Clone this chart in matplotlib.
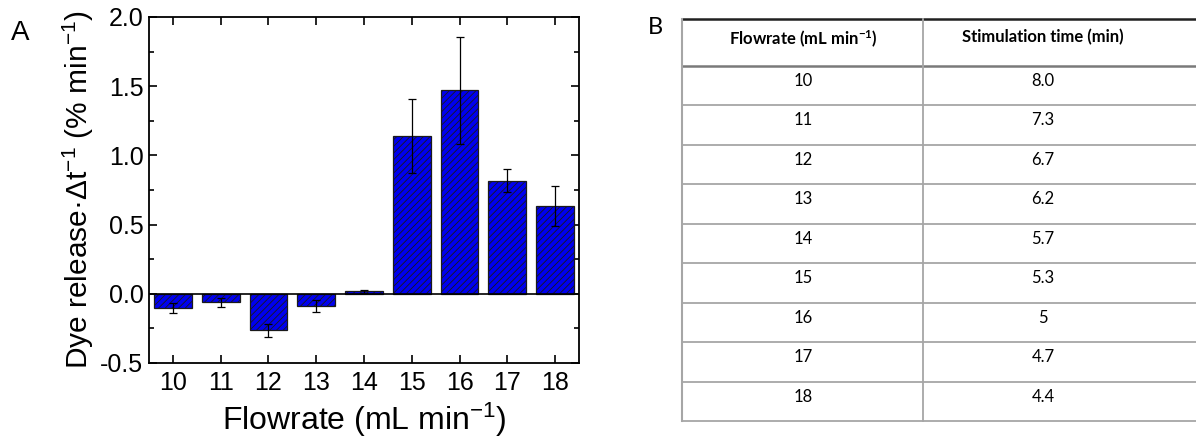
import matplotlib
matplotlib.use('Agg')
import matplotlib.pyplot as plt
import numpy as np

# Data
flowrate = [10, 11, 12, 13, 14, 15, 16, 17, 18]
dye_release = [-0.105, -0.062, -0.264, -0.090, 0.017, 1.138, 1.470, 0.818, 0.634]
dye_err = [0.037, 0.035, 0.046, 0.043, 0.010, 0.268, 0.388, 0.083, 0.143]
table_flow = ['10', '11', '12', '13', '14', '15', '16', '17', '18']
stim_time = ['8.0', '7.3', '6.7', '6.2', '5.7', '5.3', '5', '4.7', '4.4']

plt.rcParams['axes.unicode_minus'] = False
plt.rcParams['hatch.linewidth'] = 0.6

fig = plt.figure(figsize=(11.96, 4.43), dpi=100)
W, H = 1196, 443

# ---- panel A: bar chart
ax = fig.add_axes([149 / W, 1 - 363 / H, 430 / W, 346 / H])
ax.bar(flowrate, dye_release, width=0.79, color='#0000f0', edgecolor='#1a1a1a',
       linewidth=0.9, hatch='/////', zorder=2)
ax.errorbar(flowrate, dye_release, yerr=dye_err, fmt='none', ecolor='black',
            elinewidth=0.9, capsize=3, capthick=0.9, zorder=3)
ax.axhline(0, color='black', lw=1.2, zorder=4)
ax.set_xlim(9.5, 18.5)
ax.set_ylim(-0.5, 2.0)
ax.set_xticks(flowrate)
ax.set_yticks(np.arange(-0.5, 2.01, 0.5))
ax.set_yticks(np.arange(-0.25, 2.0, 0.5), minor=True)
ax.yaxis.set_major_formatter(matplotlib.ticker.FormatStrFormatter('%.1f'))
ax.tick_params(which='both', direction='in', top=True, right=True,
               labelfontfamily='Liberation Sans', width=1.2)
ax.tick_params(which='major', length=6, labelsize=18)
ax.tick_params(which='minor', length=3.5)
ax.tick_params(axis='x', pad=6)
ax.tick_params(axis='y', pad=4)
for s in ax.spines.values():
    s.set_linewidth(1.3)

ax.set_xlabel('Flowrate (mL min$\\mathregular{^{-1}}$)', fontsize=23,
              family='Liberation Sans', va='center')
ax.xaxis.set_label_coords(0.5, (363 - 420) / 346)
ax.set_ylabel('Dye release\u00b7\u0394t$\\mathregular{^{-1}}$ (% min$\\mathregular{^{-1}}$)',
              fontsize=21.5, family='Liberation Sans', va='center')
ax.yaxis.set_label_coords((78 - 149) / 430, 0.5)

fig.text(20 / W, 1 - 33 / H, 'A', fontsize=20, family='Liberation Sans',
         ha='center', va='center')

# ---- panel B: table
tx0, tx1, tcol = 682, 1196, 923
ttop, thead, tbot = 19, 66, 421
tax = fig.add_axes([0, 0, 1, 1])
tax.set_xlim(0, W)
tax.set_ylim(H, 0)
tax.axis('off')

fig.text(655 / W, 1 - 27 / H, 'B', fontsize=17, family='Lato',
         ha='center', va='center')

row_h = (tbot - thead) / len(table_flow)
grid = '#a6a6a6'
# horizontal lines
tax.plot([tx0, tx1], [ttop, ttop], color='#202020', lw=1.8)
tax.plot([tx0, tx1], [thead, thead], color='#7a7a7a', lw=1.8)
for i in range(1, len(table_flow) + 1):
    y = thead + i * row_h
    tax.plot([tx0, tx1], [y, y], color=grid, lw=1.3)
# vertical lines
tax.plot([tx0, tx0], [ttop, tbot], color=grid, lw=1.5)
tax.plot([tcol, tcol], [ttop, tbot], color=grid, lw=1.3)

c1, c2 = 803, 1043
tax.text(c1, 39, 'Flowrate (mL min$\\mathregular{^{-1}}$)', fontsize=12,
         fontweight='bold', family='Lato', ha='center', va='center')
tax.text(c2, 37, 'Stimulation time (min)', fontsize=12,
         fontweight='bold', family='Lato', ha='center', va='center')
for i, (f, t) in enumerate(zip(table_flow, stim_time)):
    y = thead + i * row_h + 15
    tax.text(c1, y, f, fontsize=12, family='Lato', ha='center', va='center')
    tax.text(c2, y, t, fontsize=12, family='Lato', ha='center', va='center')

fig.savefig('out.png', dpi=100)
